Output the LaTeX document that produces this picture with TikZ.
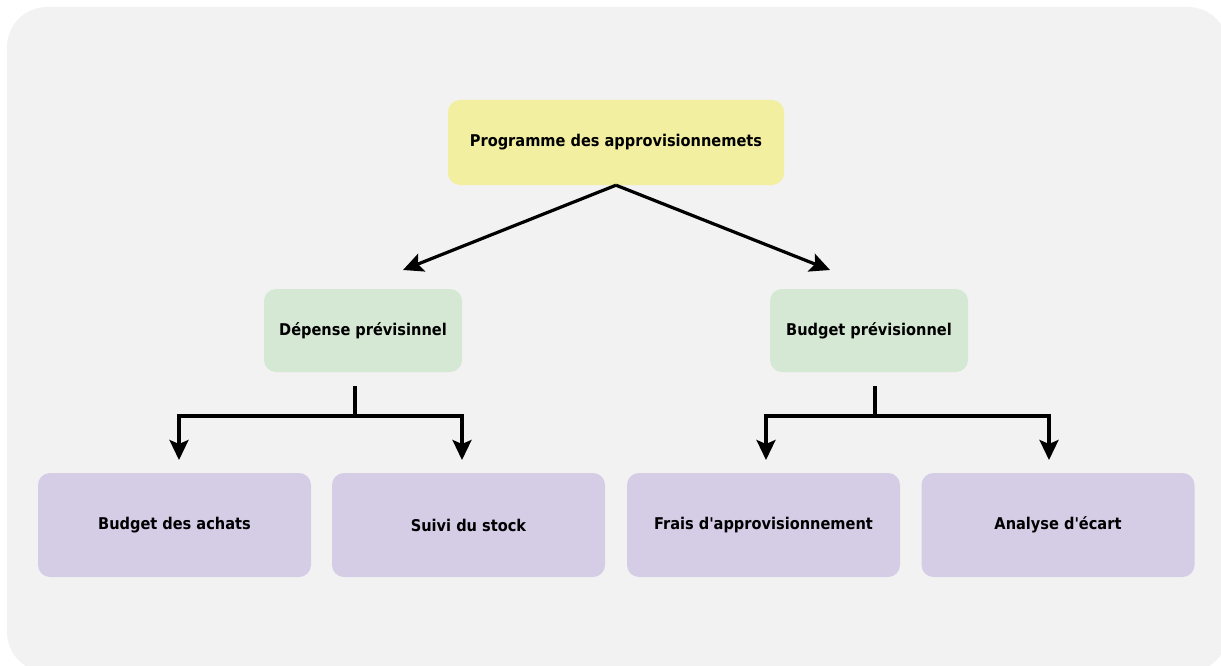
\documentclass[tikz,border=0pt]{standalone}
\usepackage{fontspec}
\setmainfont{DejaVu Sans Condensed}[BoldFont={DejaVu Sans Condensed Bold}]
\usetikzlibrary{arrows.meta,calc}
\definecolor{bgpanel}{HTML}{F2F2F2}
\definecolor{rootfill}{HTML}{F3EFA1}
\definecolor{midfill}{HTML}{D5E8D4}
\definecolor{leaffill}{HTML}{D5CCE6}
\tikzset{
  box/.style={rounded corners=12pt, draw=none, align=center, inner sep=0pt,
    font=\fontsize{16.2}{19}\selectfont\bfseries},
  rootbox/.style={box, fill=rootfill, minimum width=336pt, minimum height=85pt},
  midbox/.style={box, fill=midfill, minimum width=198pt, minimum height=83pt},
  leafbox/.style={box, fill=leaffill, minimum width=273pt, minimum height=104pt},
  link/.style={line width=3.2pt, -{Stealth[length=20pt,width=19pt,inset=4pt]}},
  bare/.style={line width=3.2pt}
}
\begin{document}
\begin{tikzpicture}[x=1pt,y=-1pt]
  \useasboundingbox (0,0) rectangle (1221,666);
  \fill[bgpanel, rounded corners=40pt] (7,7) rectangle (1228,672);

  % hierarchy boxes
  \node[rootbox] (root) at (616,142.5) {Programme des approvisionnemets};
  \node[midbox] (dep) at (363,330.5) {Dépense prévisinnel};
  \node[midbox] (bud) at (869,330.5) {Budget prévisionnel};
  \node[leafbox] (ach) at (174.5,525) {Budget des achats};
  \node[leafbox] (stk) at (468.5,525) {Suivi du stock};
  \node[leafbox] (frs) at (763.5,525) {Frais d\textquotesingle approvisionnement};
  \node[leafbox] (ecr) at (1058,525) {Analyse d\textquotesingle écart};

  % arrow ends and branch points
  \coordinate (depTip) at (403,270);
  \coordinate (budTip) at (830,270);
  \coordinate (depTop) at (355,386);
  \coordinate (depBar) at (355,416);
  \coordinate (achTip) at (179,460);
  \coordinate (stkTip) at (462,460);
  \coordinate (budTop) at (875,386);
  \coordinate (budBar) at (875,416);
  \coordinate (frsTip) at (766,460);
  \coordinate (ecrTip) at (1049,460);

  % top split
  \draw[link] (root.south) -- (depTip);
  \draw[link] (root.south) -- (budTip);

  % left branch
  \draw[bare] (depTop) -- (depBar);
  \draw[link] (depBar) -| (achTip);
  \draw[link] (depBar) -| (stkTip);

  % right branch
  \draw[bare] (budTop) -- (budBar);
  \draw[link] (budBar) -| (frsTip);
  \draw[link] (budBar) -| (ecrTip);
\end{tikzpicture}
\end{document}
